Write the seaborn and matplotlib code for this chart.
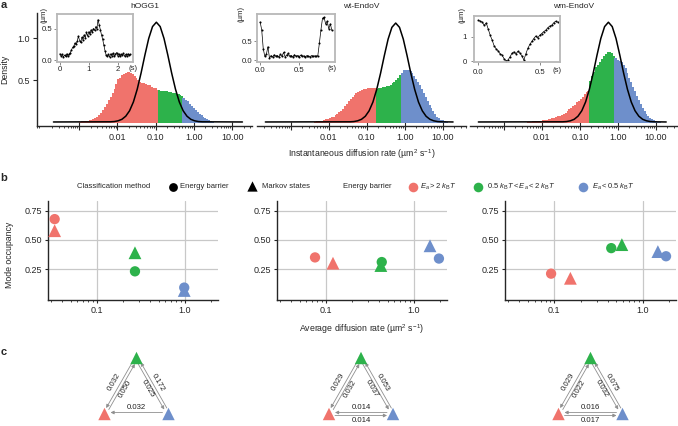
import numpy as np
import pandas as pd
import matplotlib
matplotlib.use("Agg")
import matplotlib.pyplot as plt
from matplotlib.ticker import FixedLocator, LogLocator, NullFormatter
import seaborn as sns

sns.set_style("ticks")
plt.rcParams["font.family"] = ["Liberation Sans", "DejaVu Sans"]
plt.rcParams["mathtext.fontset"] = "custom"
plt.rcParams["mathtext.rm"] = "Liberation Sans"
plt.rcParams["mathtext.it"] = "Liberation Sans:italic"
plt.rcParams["axes.linewidth"] = 1.0

# ---------------------- data ----------------------

proteins = ["hOGG1", "wt-EndoV", "wm-EndoV"]
modes = ["high", "mid", "low"]          # Ea > 2kT, 0.5kT < Ea < 2kT, Ea < 0.5kT
mode_colors = {"high": "#F0736C", "mid": "#2DB24B", "low": "#6E8FCB"}

# panel a: histograms over log10(D), bin width 0.05
bin_w = 0.05
hogg1_start = -3.0
hogg1_dens = [0.005, 0.008, 0.010, 0.012, 0.015, 0.020, 0.025, 0.035, 0.045, 0.060,
              0.080, 0.105, 0.140, 0.180, 0.220, 0.265, 0.300, 0.350, 0.395, 0.450,
              0.510, 0.530, 0.560, 0.575, 0.590, 0.600, 0.585, 0.570, 0.550, 0.520,
              0.500, 0.480, 0.465, 0.470, 0.455, 0.445, 0.440, 0.420, 0.410, 0.400,
              0.385, 0.380, 0.370, 0.375, 0.365, 0.370, 0.360, 0.355, 0.350, 0.345,
              0.335, 0.330, 0.320, 0.310, 0.290, 0.265, 0.245, 0.220, 0.195, 0.170,
              0.145, 0.120, 0.100, 0.080, 0.060, 0.045, 0.030, 0.020, 0.012, 0.005]
hogg1_cuts = [-0.95, -0.30]

wt_start = -2.4
wt_dens = [0.003, 0.006, 0.008, 0.012, 0.016, 0.022, 0.030, 0.038, 0.045, 0.055,
           0.065, 0.080, 0.095, 0.115, 0.135, 0.160, 0.185, 0.215, 0.245, 0.270,
           0.295, 0.320, 0.340, 0.355, 0.370, 0.385, 0.390, 0.395, 0.400, 0.405,
           0.400, 0.410, 0.405, 0.395, 0.400, 0.410, 0.415, 0.420, 0.425, 0.435,
           0.445, 0.460, 0.475, 0.495, 0.520, 0.555, 0.590, 0.615, 0.625, 0.620,
           0.605, 0.580, 0.550, 0.515, 0.480, 0.440, 0.395, 0.350, 0.300, 0.250,
           0.205, 0.165, 0.125, 0.090, 0.065, 0.045, 0.028, 0.018, 0.010, 0.004]
wt_cuts = [-0.75, -0.10]

wm_start = -2.4
wm_dens = [0.002, 0.004, 0.005, 0.006, 0.008, 0.010, 0.012, 0.015, 0.018, 0.020,
           0.025, 0.030, 0.035, 0.042, 0.050, 0.058, 0.066, 0.075, 0.085, 0.098,
           0.110, 0.125, 0.150, 0.165, 0.190, 0.205, 0.235, 0.255, 0.280, 0.300,
           0.335, 0.360, 0.375, 0.490, 0.550, 0.600, 0.650, 0.685, 0.720, 0.755,
           0.790, 0.810, 0.830, 0.835, 0.820, 0.790, 0.760, 0.745, 0.730, 0.715,
           0.675, 0.640, 0.585, 0.530, 0.475, 0.420, 0.365, 0.310, 0.260, 0.210,
           0.165, 0.125, 0.095, 0.070, 0.048, 0.030, 0.018, 0.010, 0.005, 0.002]
wm_cuts = [-0.75, -0.10]

# fitted curves (log10 D, density)
hogg1_fit_x = [-3.67, -2.18, -2.08, -1.98, -1.88, -1.78, -1.68, -1.58, -1.48, -1.38, -1.28, -1.18, -1.08, -0.98,
               -0.88, -0.78, -0.68, -0.58, -0.48, -0.38, -0.28, -0.18, -0.08, 0.02, 0.12, 0.22, 1.27]
hogg1_fit_y = [0, 0.002, 0.005, 0.014, 0.032, 0.069, 0.134, 0.239, 0.391, 0.583, 0.797, 0.996, 1.138, 1.19,
               1.138, 0.996, 0.797, 0.583, 0.391, 0.239, 0.134, 0.069, 0.032, 0.014, 0.005, 0.002, 0]
wt_fit_x = [-3.67, -1.44, -1.34, -1.24, -1.14, -1.04, -0.94, -0.84, -0.74, -0.64, -0.54, -0.44, -0.34, -0.24,
            -0.14, -0.04, 0.06, 0.16, 0.26, 0.36, 0.46, 0.56, 0.66, 0.76, 0.86, 0.96, 1.27]
wt_fit_y = [0, 0.002, 0.005, 0.014, 0.032, 0.068, 0.133, 0.237, 0.388, 0.578, 0.790, 0.988, 1.129, 1.18,
            1.129, 0.988, 0.790, 0.578, 0.388, 0.237, 0.133, 0.068, 0.032, 0.014, 0.005, 0.002, 0]
wm_fit_x = [-3.67, -1.45, -1.35, -1.25, -1.15, -1.05, -0.95, -0.85, -0.75, -0.65, -0.55, -0.45, -0.35, -0.25,
            -0.15, -0.05, 0.05, 0.15, 0.25, 0.35, 0.45, 0.55, 0.65, 0.75, 0.85, 0.95, 1.27]
wm_fit_y = [0, 0.002, 0.005, 0.014, 0.032, 0.069, 0.134, 0.239, 0.391, 0.583, 0.797, 0.996, 1.138, 1.19,
            1.138, 0.996, 0.797, 0.583, 0.391, 0.239, 0.134, 0.069, 0.032, 0.014, 0.005, 0.002, 0]

# inset trajectories: time (s), position (um)
hogg1_t = [0.00, 0.04, 0.08, 0.12, 0.16, 0.20, 0.24, 0.28, 0.32, 0.36, 0.40, 0.44, 0.48, 0.52, 0.56, 0.60,
           0.64, 0.68, 0.72, 0.76, 0.80, 0.84, 0.88, 0.92, 0.96, 1.00, 1.04, 1.08, 1.12, 1.16, 1.20, 1.24,
           1.28, 1.32, 1.36, 1.40, 1.44, 1.48, 1.52, 1.56, 1.60, 1.64, 1.68, 1.72, 1.76, 1.80, 1.84, 1.88,
           1.92, 1.96, 2.00, 2.04, 2.08, 2.12, 2.16, 2.20, 2.24, 2.28, 2.32, 2.36, 2.40, 2.44]
hogg1_pos = [0.10, 0.07, 0.09, 0.05, 0.08, 0.06, 0.10, 0.07, 0.09, 0.12, 0.16, 0.20, 0.22, 0.27, 0.25, 0.30,
             0.38, 0.31, 0.28, 0.36, 0.32, 0.40, 0.35, 0.44, 0.38, 0.45, 0.41, 0.48, 0.44, 0.50, 0.47, 0.53,
             0.50, 0.64, 0.56, 0.48, 0.40, 0.33, 0.24, 0.15, 0.08, 0.06, 0.09, 0.05, 0.10, 0.07, 0.11, 0.06,
             0.09, 0.12, 0.07, 0.10, 0.06, 0.09, 0.08, 0.11, 0.06, 0.09, 0.07, 0.10, 0.08, 0.09]
wt_t = [0.00, 0.02, 0.04, 0.06, 0.08, 0.10, 0.12, 0.14, 0.16, 0.18, 0.20, 0.22, 0.24, 0.26, 0.28, 0.30,
        0.32, 0.34, 0.36, 0.38, 0.40, 0.42, 0.44, 0.46, 0.48, 0.50, 0.52, 0.54, 0.56, 0.58, 0.60, 0.62,
        0.64, 0.66, 0.68, 0.70, 0.72, 0.74, 0.76, 0.78, 0.80, 0.82, 0.84, 0.86, 0.88, 0.90, 0.92]
wt_pos = [1.00, 0.80, 0.30, 0.10, 0.15, 0.35, 0.05, 0.12, 0.08, 0.14, 0.10, 0.12, 0.08, 0.15, 0.10, 0.20,
          0.09, 0.13, 0.18, 0.10, 0.12, 0.08, 0.14, 0.10, 0.12, 0.09, 0.13, 0.10, 0.11, 0.08, 0.12, 0.10,
          0.09, 0.12, 0.10, 0.11, 0.10, 0.12, 0.45, 0.80, 1.10, 1.12, 0.95, 1.02, 0.82, 0.95, 0.78]
wm_t = [0.000, 0.016, 0.032, 0.048, 0.064, 0.080, 0.096, 0.112, 0.128, 0.144, 0.160, 0.176, 0.192, 0.208,
        0.224, 0.240, 0.256, 0.272, 0.288, 0.304, 0.320, 0.336, 0.352, 0.368, 0.384, 0.400, 0.416, 0.432,
        0.448, 0.464, 0.480, 0.496, 0.512, 0.528, 0.544, 0.560, 0.576, 0.592, 0.608, 0.624, 0.640]
wm_pos = [1.66, 1.62, 1.58, 1.45, 1.55, 1.30, 1.05, 0.85, 0.62, 0.50, 0.42, 0.30, 0.25, 0.10,
          0.02, 0.05, 0.18, 0.32, 0.38, 0.30, 0.40, 0.33, 0.22, 0.05, 0.30, 0.52, 0.68, 0.80,
          0.92, 1.02, 0.95, 1.05, 1.12, 1.20, 1.25, 1.35, 1.42, 1.45, 1.55, 1.62, 1.58]

# panel b: mode occupancy vs average diffusion rate
b_mode = ["high", "high", "mid", "mid", "low", "low"]
b_method = ["Energy barrier", "Markov states"] * 3
hogg1_rate = [0.033, 0.033, 0.27, 0.27, 0.98, 0.98]
hogg1_occ = [0.68, 0.58, 0.23, 0.39, 0.09, 0.065]
wt_rate = [0.075, 0.12, 0.43, 0.42, 1.92, 1.52]
wt_occ = [0.35, 0.30, 0.31, 0.28, 0.34, 0.45]
wm_rate = [0.092, 0.152, 0.44, 0.58, 1.83, 1.48]
wm_occ = [0.21, 0.17, 0.43, 0.46, 0.36, 0.40]

# panel c: transition rates (left outer, left inner, right inner, right outer, bottom upper, bottom lower)
hogg1_k = [0.032, 0.050, 0.025, 0.172, 0.032, None]
wt_k = [0.029, 0.032, 0.037, 0.053, 0.014, 0.014]
wm_k = [0.029, 0.022, 0.032, 0.075, 0.016, 0.017]

# ---------------------- layout helpers ----------------------

W, H = 678, 426
fig = plt.figure(figsize=(W / 100, H / 100), dpi=100)


def px_axes(x0, y0, x1, y1):
    return fig.add_axes([x0 / W, 1 - y1 / H, (x1 - x0) / W, (y1 - y0) / H])


# ---------------------- panel a ----------------------

def draw_hist(ax, start, dens, cuts, fit_x, fit_y, xlim, first):
    edges = start + bin_w * np.arange(len(dens) + 1)
    centers = edges[:-1] + bin_w / 2
    mode = np.where(centers < cuts[0], "high", np.where(centers < cuts[1], "mid", "low"))
    df = pd.DataFrame({"logD": centers, "dens": dens, "mode": mode})
    for m in modes:
        sub = df[df["mode"] == m]
        sub_edges = list(sub["logD"] - bin_w / 2) + [sub["logD"].iloc[-1] + bin_w / 2]
        col = mode_colors[m]
        sns.histplot(data=sub, x="logD", weights="dens", bins=sub_edges, color=col,
                     element="bars", fill=True, alpha=1, edgecolor=col, linewidth=0.5,
                     antialiased=False, ax=ax)
    sns.lineplot(x=fit_x, y=fit_y, color="black", linewidth=1.1, ax=ax)
    ax.set_xlim(xlim)
    ax.set_ylim(-0.048, 1.30)
    ax.xaxis.set_major_locator(FixedLocator([-3, -2, -1, 0, 1]))
    ax.set_xticklabels(["", "0.01", "0.10", "1.00", "10.00"])
    ax.xaxis.set_minor_locator(FixedLocator([np.log10(k) + d for d in range(-5, 2) for k in range(2, 10)]))
    ax.tick_params(axis="x", which="major", direction="inout", length=5.5, width=0.8, labelsize=6.5, pad=2)
    ax.tick_params(axis="x", which="minor", direction="out", length=1.5, width=0.6)
    ax.set_xlabel("")
    ax.set_ylabel("")
    ax.spines["top"].set_visible(False)
    ax.spines["right"].set_visible(False)
    if first:
        ax.set_yticks([0.5, 1.0], ["0.5", "1.0"])
        ax.tick_params(axis="y", direction="out", length=3, width=0.8, labelsize=6.5, pad=2)
        ax.set_ylabel("Density", fontsize=6.3)
        ax.yaxis.set_label_coords(-0.128, 0.5)
    else:
        ax.spines["left"].set_visible(False)
        ax.set_yticks([])


ha1 = px_axes(37, 13, 252, 126)
ha2 = px_axes(257, 13, 466, 126)
ha3 = px_axes(470, 13, 678, 126)
draw_hist(ha1, hogg1_start, hogg1_dens, hogg1_cuts, hogg1_fit_x, hogg1_fit_y, (-4.10, 1.52), True)
draw_hist(ha2, wt_start, wt_dens, wt_cuts, wt_fit_x, wt_fit_y, (-3.89, 1.61), False)
draw_hist(ha3, wm_start, wm_dens, wm_cuts, wm_fit_x, wm_fit_y, (-3.89, 1.58), False)
ha2.set_xlabel("Instantaneous diffusion rate (\u00b5m$^2$ s$^{-1}$)", fontsize=6.3)
ha2.xaxis.set_label_coords(0.5, -0.185)


def draw_inset(box, t, pos, xlim, ylim, xticks, xlabels, yticks, ylabels, pad):
    ax = px_axes(*box)
    sns.lineplot(x=t, y=pos, color="black", linewidth=0.5, marker="o", markersize=1.5,
                 markeredgewidth=0, ax=ax)
    ax.set_xlim(xlim)
    ax.set_ylim(ylim)
    for s in ax.spines.values():
        s.set_color("#b8b8b8")
        s.set_linewidth(1.3)
    ax.set_xticks(xticks, xlabels)
    ax.set_yticks(yticks, ylabels)
    ax.tick_params(length=2, width=0.6, color="#777777", labelsize=5.6, pad=pad)
    ax.set_xlabel("")
    ax.set_ylabel("")
    return ax


draw_inset((57, 14, 133, 62), hogg1_t, hogg1_pos, (-0.1, 2.53), (-0.03, 0.73),
           [0, 1, 2], ["0", "1", "2"], [0, 0.5], ["0.0", "0.5"], 1.2)
draw_inset((257, 14, 335, 62), wt_t, wt_pos, (-0.04, 0.96), (-0.05, 1.21),
           [0, 0.5], ["0.0", "0.5"], [0, 0.5], ["0.0", "0.5"], 1.5)
draw_inset((474, 16, 560, 62), wm_t, wm_pos, (-0.035, 0.66), (-0.03, 1.83),
           [0, 0.5], ["0.0", "0.5"], [0, 1], ["0", "1"], 3)

# ---------------------- panel b ----------------------

def draw_occ(ax, rate, occ, first):
    df = pd.DataFrame({"rate": rate, "occ": occ, "mode": b_mode, "method": b_method})
    ax.set_xscale("log")
    sns.scatterplot(data=df[df["method"] == "Markov states"], x="rate", y="occ", hue="mode",
                    hue_order=modes, palette=mode_colors, marker="^", s=85, linewidth=0,
                    legend=False, ax=ax, zorder=3)
    sns.scatterplot(data=df[df["method"] == "Energy barrier"], x="rate", y="occ", hue="mode",
                    hue_order=modes, palette=mode_colors, marker="o", s=55, linewidth=0,
                    legend=False, ax=ax, zorder=4)
    ax.set_xlim(10 ** -1.557, 10 ** 0.375)
    ax.set_ylim(-0.017, 0.836)
    ax.set_xticks([0.1, 1.0], ["0.1", "1.0"])
    ax.xaxis.set_minor_locator(LogLocator(base=10, subs=np.arange(2, 10)))
    ax.xaxis.set_minor_formatter(NullFormatter())
    ax.set_yticks([0.25, 0.5, 0.75], ["0.25", "0.50", "0.75"])
    ax.grid(True, which="major", color="#c8c8c8", linewidth=0.9)
    ax.set_axisbelow(True)
    ax.tick_params(axis="both", which="major", direction="out", length=2.5, width=0.8, labelsize=6.5, pad=2)
    ax.tick_params(axis="x", which="minor", direction="out", length=1.5, width=0.6)
    ax.spines["top"].set_visible(False)
    ax.spines["right"].set_visible(False)
    ax.set_xlabel("")
    ax.set_ylabel("")
    if first:
        ax.set_ylabel("Mode occupancy", fontsize=6.3)
        ax.yaxis.set_label_coords(-0.20, 0.46)


hb1 = px_axes(48, 201, 218, 300)
hb2 = px_axes(277, 201, 447, 300)
hb3 = px_axes(505, 201, 676, 300)
draw_occ(hb1, hogg1_rate, hogg1_occ, True)
draw_occ(hb2, wt_rate, wt_occ, False)
draw_occ(hb3, wm_rate, wm_occ, False)
hb2.set_xlabel("Average diffusion rate (\u00b5m$^2$ s$^{-1}$)", fontsize=6.3)
hb2.xaxis.set_label_coords(0.5, -0.225)

# ---------------------- overlay: labels, legend, panel c ----------------------

ov = fig.add_axes([0, 0, 1, 1])
ov.patch.set_alpha(0)

for lab, (x, y) in zip("abc", [(4, 5), (4, 178), (4, 352)]):
    ov.text(x, y, lab, fontsize=8, fontweight="bold", ha="center", va="center")

for name, ax in zip(proteins, [ha1, ha2, ha3]):
    bb = ax.get_position()
    ov.text((bb.x0 + bb.x1) / 2 * W, 6, name, fontsize=6, ha="center", va="center")

# inset axis unit labels
for x, y in [(133, 68), (331.7, 68), (557, 70)]:
    ov.text(x, y, "(s)", fontsize=5.6, ha="center", va="center")
for x, y in [(44, 15), (240.7, 13.5), (461.7, 15)]:
    ov.text(x, y, "(\u00b5m)", fontsize=5.6, ha="center", va="center", rotation=90)

# legend of panel b
leg_y = 186.5
lfs = 5.5
ov.text(77, leg_y, "Classification method", fontsize=lfs, va="center")
ov.scatter([173], [leg_y], marker="o", s=40, color="black", lw=0)
ov.text(180.5, leg_y, "Energy barrier", fontsize=lfs, va="center")
ov.scatter([251.7], [leg_y - 0.5], marker="^", s=55, color="black", lw=0)
ov.text(261.5, leg_y, "Markov states", fontsize=lfs, va="center")
ov.text(343, leg_y, "Energy barrier", fontsize=lfs, va="center")
leg_items = [(413, 420, r"$E_a > 2\ k_\mathrm{B}T$"),
             (478, 487, r"$0.5\ k_\mathrm{B}T < E_a < 2\ k_\mathrm{B}T$"),
             (583, 592, r"$E_a < 0.5\ k_\mathrm{B}T$")]
for m, (xm, xt, txt) in zip(modes, leg_items):
    ov.scatter([xm], [leg_y], marker="o", s=48, color=mode_colors[m], lw=0)
    ov.text(xt, leg_y, txt, fontsize=lfs, va="center")


def draw_network(ax, cx, k):
    red = np.array([cx - 32.0, 414.0])
    green = np.array([cx, 358.0])
    blue = np.array([cx + 32.0, 414.0])
    nodes = pd.DataFrame({"x": [red[0], green[0], blue[0]], "y": [red[1], green[1], blue[1]], "mode": modes})
    sns.scatterplot(data=nodes, x="x", y="y", hue="mode", hue_order=modes, palette=mode_colors,
                    marker="^", s=80, linewidth=0, legend=False, ax=ax, zorder=4)
    edges = [(red, green, k[0], k[1], 60, 7.5, 5.5),
             (green, blue, k[3], k[2], -60, 6.5, 5.5),
             (red, blue, k[4], k[5], 0, 6.5, 7.0)]
    for p, q, ka, kb, rot, da, db in edges:
        u = (q - p) / np.linalg.norm(q - p)
        n = np.array([-u[1], u[0]])
        mid = (p + q) / 2
        for kval, sgn, src, dst, dist in ((ka, -1, q, p, da), (kb, 1, p, q, db)):
            if kval is None:
                continue
            off = n * 1.5 * sgn
            d = (dst - src) / np.linalg.norm(dst - src)
            a = src + off + d * 6
            b = dst + off - d * 6
            ax.annotate("", xy=b, xytext=a,
                        arrowprops=dict(arrowstyle="-|>", color="#8f8f8f", lw=0.6,
                                        mutation_scale=5, shrinkA=0, shrinkB=0))
            pos = mid + n * dist * sgn
            ax.text(pos[0], pos[1], f"{kval:.3f}", fontsize=5.6, color="#222222",
                    ha="center", va="center", rotation=rot, rotation_mode="anchor")


for cx, k in zip([136.5, 361, 590.5], [hogg1_k, wt_k, wm_k]):
    draw_network(ov, cx, k)
ov.set_xlim(0, W)
ov.set_ylim(H, 0)
ov.axis("off")

fig.savefig("out.png", dpi=100)
